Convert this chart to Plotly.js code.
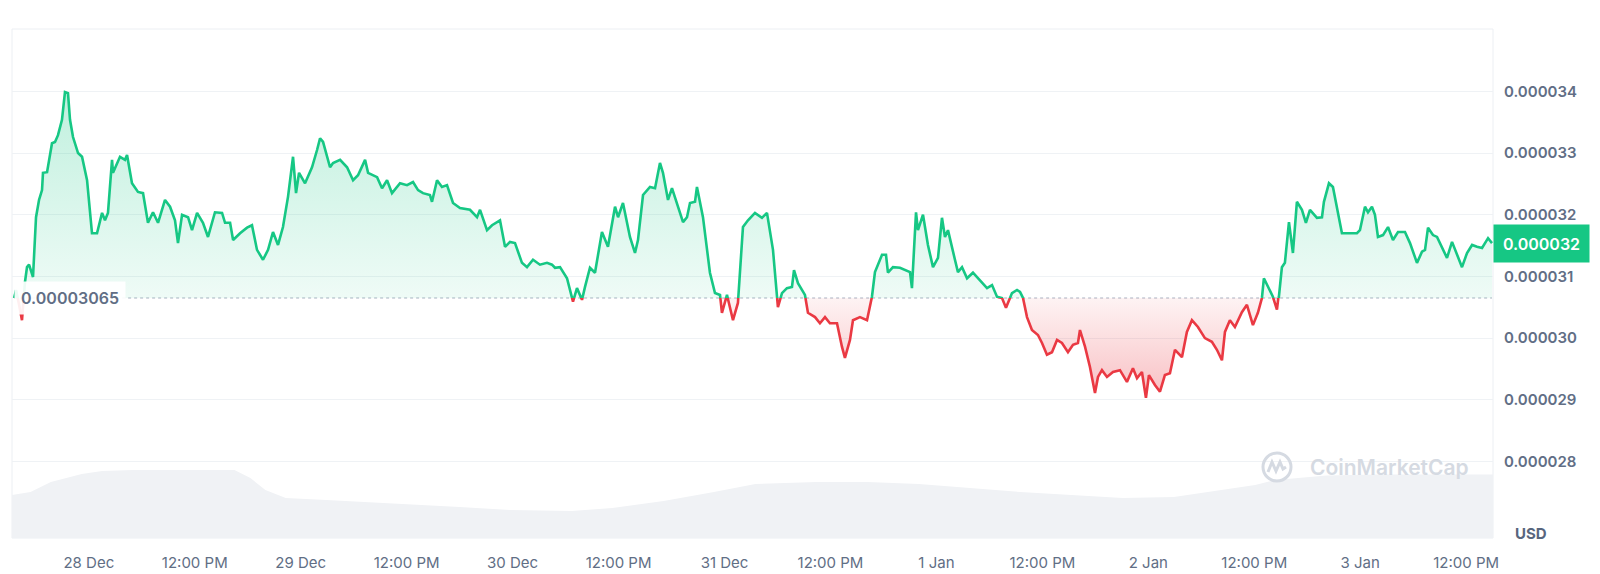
<!DOCTYPE html>
<html><head><meta charset="utf-8">
<script src="https://cdn.plot.ly/plotly-3.0.1.min.js"></script>
<style>html,body{margin:0;padding:0;background:#fff;overflow:hidden}#chart{width:1600px;height:574px}</style>
</head><body><div id="chart"></div>
<script>
// ---- data (time in hours since 28 Dec 00:00, price in micro-USD) ----
const hoursSince28Dec = [-8.46,-8.24,-7.90,-7.57,-7.23,-7.00,-6.77,-6.32,-5.98,-5.64,-5.30,-5.19,-4.73,-4.17,-3.83,-3.49,-3.04,-2.70,-2.36,-2.13,-1.79,-1.22,-0.77,-0.20,0.36,0.93,1.50,1.83,2.17,2.63,2.74,3.53,4.10,4.33,4.89,5.57,6.14,6.70,7.27,7.84,8.63,9.20,9.76,10.10,10.56,11.24,11.69,12.26,12.93,13.50,14.29,15.09,15.43,16.00,16.34,17.13,17.92,18.48,19.05,19.73,20.30,20.86,21.43,21.99,22.56,23.13,23.47,23.81,24.49,25.28,25.85,26.19,26.53,27.32,27.66,28.46,29.25,29.93,30.49,31.29,31.63,32.65,33.21,33.78,34.34,35.25,36.04,36.72,37.29,37.85,38.64,38.87,39.44,40.00,40.57,41.25,42.04,43.17,43.97,44.31,45.10,45.67,46.57,47.14,47.70,48.27,49.06,49.63,50.31,51.10,51.89,52.46,52.80,53.37,54.16,54.84,55.29,55.86,56.20,56.76,57.33,58.12,58.80,59.60,59.94,60.50,61.29,61.86,62.20,62.77,63.56,64.13,64.69,65.03,65.60,66.05,66.96,67.30,67.75,68.09,68.66,68.88,69.56,70.01,70.35,70.92,71.49,71.71,72.28,72.96,73.52,74.09,74.66,75.45,76.24,76.81,77.49,78.05,78.51,79.07,79.64,79.87,80.32,81.11,81.45,82.25,82.81,83.38,83.94,84.74,85.30,85.64,86.21,86.55,87.34,88.14,88.70,89.04,89.84,90.29,90.51,91.08,91.87,92.44,93.01,93.23,93.69,93.91,94.48,95.04,95.61,96.18,96.63,96.97,97.31,98.10,98.44,98.90,99.47,100.14,100.94,101.73,102.30,102.86,103.43,103.88,104.56,105.13,105.47,105.81,106.26,106.82,107.50,107.96,108.52,109.09,109.66,110.22,110.90,111.47,112.03,112.26,112.83,113.39,113.96,114.30,114.75,115.32,116.00,116.79,117.58,118.26,118.72,119.28,119.73,120.07,120.75,121.32,121.88,122.45,123.02,123.81,124.37,124.94,125.62,126.41,127.20,127.77,128.34,128.68,129.24,129.81,130.60,131.17,131.85,132.41,132.87,133.09,133.55,134.11,134.57,134.79,135.13,135.47,135.93,136.38,136.83,137.40,137.85,138.31,139.10,139.67,139.89,140.46,140.91,141.36,141.93,143.63,143.97,144.54,144.88,145.33,145.67,146.01,146.58,147.15,147.71,148.28,149.07,149.64,149.98,150.43,151.00,151.34,151.68,152.24,152.70,153.27,153.83,154.40,154.97,155.53,156.10,156.67,157.23,157.80,158.48,158.93];
const priceMicroUsd = [30.65,30.78,30.54,30.29,30.91,31.15,31.19,30.99,31.96,32.24,32.40,32.68,32.69,33.16,33.18,33.29,33.54,33.99,33.97,33.54,33.26,33.00,32.94,32.56,31.70,31.70,32.03,31.91,32.03,32.89,32.68,32.94,32.89,32.97,32.51,32.37,32.35,31.87,32.04,31.87,32.24,32.13,31.91,31.54,32.00,31.96,31.75,32.03,31.87,31.64,32.04,32.03,31.87,31.87,31.59,31.70,31.79,31.83,31.43,31.27,31.43,31.72,31.51,31.80,32.29,32.94,32.35,32.68,32.51,32.77,33.05,33.24,33.18,32.77,32.84,32.89,32.77,32.56,32.64,32.89,32.68,32.61,32.43,32.56,32.35,32.51,32.48,32.53,32.40,32.35,32.32,32.21,32.56,32.45,32.48,32.19,32.11,32.08,31.96,32.08,31.75,31.83,31.91,31.48,31.56,31.54,31.22,31.15,31.27,31.19,31.22,31.19,31.14,31.15,30.97,30.59,30.81,30.62,30.83,31.14,31.06,31.72,31.48,32.13,31.96,32.19,31.64,31.38,31.59,32.32,32.45,32.43,32.84,32.68,32.24,32.43,32.03,31.88,31.96,32.19,32.21,32.45,31.96,31.48,31.06,30.73,30.70,30.41,30.70,30.29,30.57,31.80,31.91,32.03,31.95,32.03,31.43,30.50,30.73,30.81,30.83,31.10,30.89,30.70,30.41,30.34,30.24,30.34,30.24,30.24,29.86,29.68,29.97,30.29,30.34,30.29,30.67,31.07,31.35,31.35,31.06,31.15,31.14,31.10,31.07,30.81,32.04,31.75,32.00,31.51,31.15,31.30,31.95,31.64,31.75,31.27,31.07,31.15,30.97,31.06,30.94,30.81,30.86,30.67,30.65,30.49,30.73,30.78,30.75,30.65,30.34,30.13,30.05,29.92,29.73,29.77,29.97,29.92,29.77,29.89,29.92,30.13,29.86,29.53,29.11,29.37,29.48,29.37,29.45,29.48,29.29,29.51,29.35,29.45,29.03,29.40,29.24,29.13,29.40,29.43,29.81,29.69,30.10,30.29,30.18,30.00,29.94,29.81,29.64,30.10,30.29,30.18,30.42,30.54,30.21,30.41,30.65,30.97,30.83,30.67,30.46,30.67,31.15,31.22,31.88,31.38,32.21,32.08,31.87,32.08,31.95,31.96,32.21,32.51,32.45,32.11,31.70,31.70,31.75,32.13,32.04,32.13,32.00,31.64,31.67,31.80,31.59,31.72,31.72,31.54,31.40,31.22,31.40,31.43,31.79,31.67,31.64,31.48,31.30,31.56,31.35,31.15,31.38,31.51,31.48,31.46,31.62,31.54];
const openPriceMicroUsd = 30.65;
const volumeHours = [-8.7,-6.6,-4.3,-0.8,1.5,5.0,16.5,18.3,20.0,22.3,26.9,36.2,42.0,47.7,54.7,59.3,65.1,70.8,75.5,82.4,88.2,94.0,99.7,105.5,111.3,117.1,122.9,128.6,132.1,134.4,140.2,146.0,159.1];
const volumeMillionUsd = [4.22,4.52,5.50,6.29,6.58,6.68,6.68,5.89,4.72,3.93,3.73,3.34,3.05,2.75,2.65,2.95,3.63,4.52,5.30,5.50,5.50,5.30,4.91,4.52,4.22,3.93,4.03,4.72,5.21,5.70,6.14,6.24,6.24];
const xTickHours = [0,12,24,36,48,60,72,84,96,108,120,132,144,156];
const xTickLabels = ['28 Dec','12:00 PM','29 Dec','12:00 PM','30 Dec','12:00 PM','31 Dec','12:00 PM','1 Jan','12:00 PM','2 Jan','12:00 PM','3 Jan','12:00 PM'];
const yTicksMicroUsd = [28,29,30,31,32,33,34];

// ---- build ----
const T0 = Date.UTC(2023, 11, 28);
const toMs = h => T0 + h * 3600000;
const MICRO = 1e-6;
const xs = hoursSince28Dec.map(toMs);
const ys = priceMicroUsd.map(v => v * MICRO);
const base = openPriceMicroUsd * MICRO;
const Y_MIN = 26.758e-6, Y_MAX = 35.012e-6;
const f = (base - Y_MIN) / (Y_MAX - Y_MIN);
const maxY = Math.max(...ys), minY = Math.min(...ys);
const xEnds = [xs[0], xs[xs.length - 1]];
const GREEN = '#16c784', RED = '#ea3943';
const lastPrice = ys[ys.length - 1];

const traces = [
  {x: xEnds, y: [base, base], mode: 'lines', line: {color: '#a9b2c2', width: 1.2, dash: 'dot'}, xaxis: 'x', yaxis: 'y', hoverinfo: 'skip'},
  {x: volumeHours.map(toMs), y: volumeMillionUsd, mode: 'lines', line: {width: 0}, fill: 'tozeroy', fillcolor: '#f0f2f5', xaxis: 'x', yaxis: 'y2'},
  {x: xEnds, y: [base, base], mode: 'lines', line: {width: 0}, xaxis: 'x', yaxis: 'y3'},
  {x: xs, y: ys, mode: 'lines', line: {color: GREEN, width: 2.6}, fill: 'tonexty',
   fillgradient: {type: 'vertical', start: base, stop: maxY, colorscale: [[0, 'rgba(22,199,132,0.07)'], [1, 'rgba(22,199,132,0.27)']]},
   xaxis: 'x', yaxis: 'y3'},
  {x: xEnds, y: [base, base], mode: 'lines', line: {width: 0}, xaxis: 'x', yaxis: 'y4'},
  {x: xs, y: ys, mode: 'lines', line: {color: RED, width: 2.6}, fill: 'tonexty',
   fillgradient: {type: 'vertical', start: minY, stop: base, colorscale: [[0, 'rgba(234,57,67,0.32)'], [1, 'rgba(234,57,67,0.06)']]},
   xaxis: 'x', yaxis: 'y4'}
];

const plotL = 12, plotR = 1493, plotT = 29, plotB = 538;
const px2paperX = px => (px - plotL) / (plotR - plotL);
const px2paperY = py => (plotB - py) / (plotB - plotT);
const WM = '#d5dae2';

const layout = {
  width: 1600, height: 574,
  margin: {l: plotL, r: 1600 - plotR, t: plotT, b: 574 - plotB, pad: 0},
  paper_bgcolor: '#ffffff', plot_bgcolor: 'rgba(0,0,0,0)',
  showlegend: false, hovermode: false,
  font: {family: 'Inter, Roboto, sans-serif', color: '#616e85'},
  xaxis: {type: 'date', range: [toMs(-8.70), toMs(159.04)], tickvals: xTickHours.map(toMs), ticktext: xTickLabels,
          showgrid: false, zeroline: false, showline: false, ticks: 'outside', ticklen: 11, tickcolor: 'rgba(0,0,0,0)',
          tickfont: {family: 'Inter, sans-serif', size: 15, color: '#616e85'}, anchor: 'y'},
  yaxis: {side: 'right', anchor: 'x', range: [Y_MIN, Y_MAX], tickvals: yTicksMicroUsd.map(v => v * MICRO), tickformat: '.6f',
          showgrid: true, gridcolor: '#eff2f5', gridwidth: 1, zeroline: false, showline: false,
          ticks: 'outside', ticklen: 7, tickcolor: 'rgba(0,0,0,0)',
          tickfont: {family: 'Inter, sans-serif', size: 15, weight: 600, color: '#616e85'}},
  yaxis2: {domain: [0, 1], range: [0, 50], visible: false, anchor: 'x'},
  yaxis3: {domain: [f, 1], range: [base, Y_MAX], visible: false, anchor: 'x'},
  yaxis4: {domain: [0, f], range: [Y_MIN, base], visible: false, anchor: 'x'},
  shapes: [
    {type: 'rect', xref: 'paper', yref: 'paper', x0: 0, x1: 1, y0: 0, y1: 1, line: {color: '#eceff3', width: 1}, layer: 'below'},
    {type: 'circle', xref: 'paper', yref: 'paper', xsizemode: 'pixel', ysizemode: 'pixel',
     xanchor: px2paperX(1277), yanchor: px2paperY(467), x0: -14, x1: 14, y0: -14, y1: 14, line: {color: WM, width: 3}, layer: 'above'},
    {type: 'path', xref: 'paper', yref: 'paper', xsizemode: 'pixel', ysizemode: 'pixel',
     xanchor: px2paperX(1277), yanchor: px2paperY(467),
     path: 'M -9,-5 L -5,5 L -1,-4 L 3,5 L 6,-2 L 9,0', line: {color: WM, width: 3}, layer: 'above'}
  ],
  annotations: [
    {xref: 'paper', yref: 'y', x: 0, y: base, xanchor: 'left', yanchor: 'middle', text: '0.00003065', showarrow: false,
     font: {family: 'Inter, sans-serif', size: 16, weight: 600, color: '#616e85'}, bgcolor: 'rgba(255,255,255,0.92)', borderpad: 6, xshift: 2},
    {xref: 'paper', yref: 'y', x: 1, y: lastPrice, xanchor: 'left', yanchor: 'middle', text: lastPrice.toFixed(6), showarrow: false,
     font: {family: 'Inter, sans-serif', size: 16, weight: 600, color: '#ffffff'}, bgcolor: GREEN, width: 87, height: 29, borderpad: 4},
    {xref: 'paper', yref: 'paper', x: px2paperX(1531), y: px2paperY(533), xanchor: 'center', yanchor: 'middle', text: 'USD', showarrow: false,
     font: {family: 'Inter, sans-serif', size: 15, weight: 700, color: '#58667e'}},
    {xref: 'paper', yref: 'paper', x: px2paperX(1308), y: px2paperY(467), xanchor: 'left', yanchor: 'middle', text: 'CoinMarketCap', showarrow: false,
     font: {family: 'Inter, sans-serif', size: 21, weight: 600, color: WM}}
  ]
};

Plotly.newPlot('chart', traces, layout, {staticPlot: true, displayModeBar: false});
</script></body></html>
